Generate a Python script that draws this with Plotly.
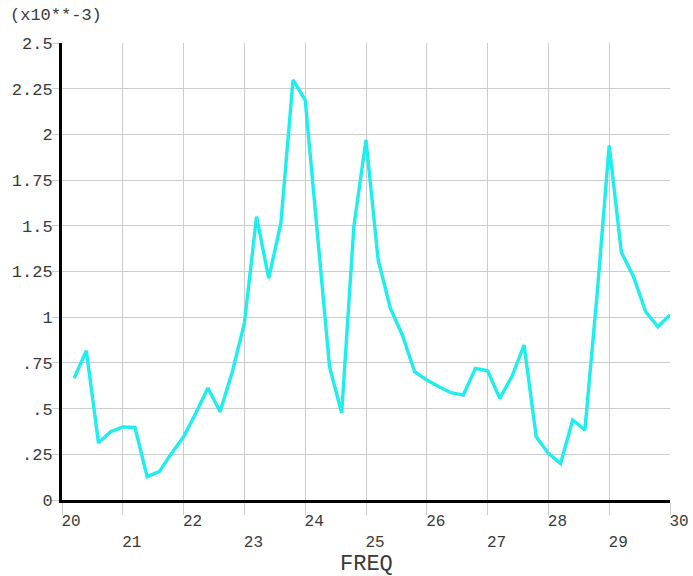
import plotly.graph_objects as go

# Frequency samples (step 0.2) and response amplitude in units of 1e-3
freq = [20.2, 20.4, 20.6, 20.8, 21.0, 21.2, 21.4, 21.6, 21.8, 22.0,
        22.2, 22.4, 22.6, 22.8, 23.0, 23.2, 23.4, 23.6, 23.8, 24.0,
        24.2, 24.4, 24.6, 24.8, 25.0, 25.2, 25.4, 25.6, 25.8, 26.0,
        26.2, 26.4, 26.6, 26.8, 27.0, 27.2, 27.4, 27.6, 27.8, 28.0,
        28.2, 28.4, 28.6, 28.8, 29.0, 29.2, 29.4, 29.6, 29.8, 30.0]
amp_e3 = [0.666, 0.817, 0.313, 0.374, 0.400, 0.397, 0.128, 0.155, 0.255, 0.346,
          0.475, 0.613, 0.483, 0.700, 0.968, 1.550, 1.213, 1.514, 2.298, 2.188,
          1.460, 0.729, 0.476, 1.495, 1.970, 1.313, 1.049, 0.900, 0.702, 0.656,
          0.620, 0.587, 0.574, 0.720, 0.707, 0.556, 0.675, 0.848, 0.346, 0.255,
          0.200, 0.438, 0.383, 1.120, 1.940, 1.355, 1.222, 1.030, 0.948, 1.012]

x_tickvals = [20, 21, 22, 23, 24, 25, 26, 27, 28, 29, 30]
x_ticktext = ["20", "<br>21", "22", "<br>23", "24", "<br>25", "26", "<br>27", "28", "<br>29", "30"]
y_tickvals = [0, 0.25, 0.5, 0.75, 1.0, 1.25, 1.5, 1.75, 2.0, 2.25, 2.5]
y_ticktext = ["0", ".25", ".5", ".75", "1", "1.25", "1.5", "1.75", "2", "2.25", "2.5"]

FONT = "Liberation Mono, Courier New, monospace"
GRID = "#cccccc"
TXT = "#3a3a3a"
FS = 17

fig = go.Figure()
fig.add_trace(go.Scatter(x=freq, y=amp_e3, mode="lines",
                         line=dict(color="#1eeeee", width=3.4),
                         showlegend=False, hoverinfo="x+y"))

fig.update_layout(
    width=693, height=576,
    margin=dict(l=62, r=23, t=43, b=76, autoexpand=False),
    paper_bgcolor="white", plot_bgcolor="white",
    font=dict(family=FONT, size=FS, color=TXT),
    xaxis=dict(range=[20, 30], tickmode="array", tickvals=x_tickvals, ticktext=x_ticktext,
               showgrid=True, gridcolor=GRID, gridwidth=1, automargin=False,
               showline=True, linecolor="black", linewidth=3,
               ticks="outside", ticklen=12, tickcolor=GRID, tickwidth=1,
               ticklabelshift=9, ticklabelstandoff=-8, ticklabeloverflow="allow",
               zeroline=False,
               tickfont=dict(family=FONT, size=16, color=TXT)),
    yaxis=dict(range=[0, 2.5], tickmode="array", tickvals=y_tickvals, ticktext=y_ticktext,
               showgrid=True, gridcolor=GRID, gridwidth=1, automargin=False,
               showline=True, linecolor="black", linewidth=3,
               ticks="outside", ticklen=7, tickcolor=GRID, tickwidth=1,
               ticklabelstandoff=-4, zeroline=False,
               tickfont=dict(family=FONT, size=FS, color=TXT)),
    annotations=[
        dict(text="(x10**-3)", x=0, y=1, xref="paper", yref="paper",
             xanchor="left", yanchor="middle", xshift=-54, yshift=28,
             showarrow=False, font=dict(family=FONT, size=FS, color=TXT)),
        dict(text="FREQ", x=0.5, y=0, xref="paper", yref="paper",
             xanchor="center", yanchor="middle", yshift=-64,
             showarrow=False, font=dict(family=FONT, size=22, color=TXT)),
    ],
)

fig.write_html("out.html", config={"displayModeBar": False},
               post_script="document.body.style.margin='0';document.body.style.overflow='hidden';")
